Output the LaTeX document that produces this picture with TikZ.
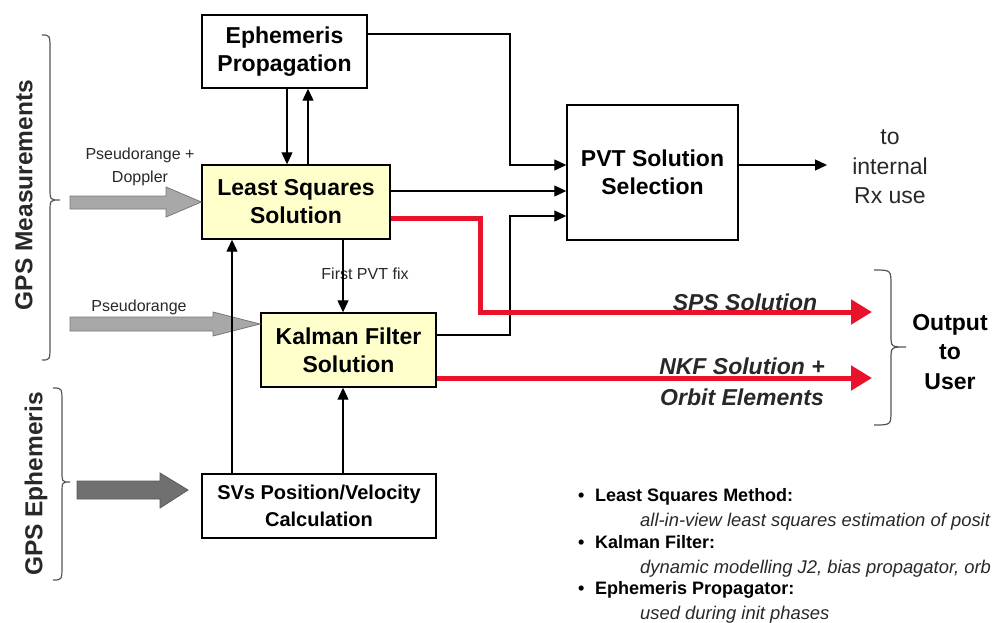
\documentclass[tikz,border=0pt]{standalone}
\usepackage{fontspec}
\setmainfont{Liberation Sans}
\usetikzlibrary{arrows.meta,calc}
\definecolor{boxyellow}{RGB}{255,255,204}
\definecolor{redline}{RGB}{234,18,42}
\definecolor{lightarrow}{RGB}{168,168,168}
\definecolor{lightedge}{RGB}{120,120,120}
\definecolor{darkarrow}{RGB}{112,112,112}
\definecolor{bracegray}{RGB}{85,85,85}
\definecolor{txtgray}{RGB}{40,40,40}
\begin{document}
\begin{tikzpicture}[x=1pt,y=-1pt,
  blk/.style={draw=black, line width=1.4pt, align=center, inner sep=0pt,
    font=\bfseries\fontsize{23}{28}\selectfont},
  conn/.style={draw=black, line width=1.2pt, -{Triangle[length=12pt,width=11pt]}},
  redarrow/.style={draw=redline, line width=5pt, -{Triangle[length=21pt,width=24pt]}},
  lbl/.style={font=\fontsize{16}{23}\selectfont, text=txtgray, align=center, inner sep=0pt},
  brc/.style={draw=bracegray, line width=1.2pt},
  bigtxt/.style={font=\bfseries\fontsize{23}{29.5}\selectfont, align=center, inner sep=0pt},
  redtxt/.style={font=\bfseries\itshape\fontsize{23}{31}\selectfont, align=center, inner sep=0pt, text=txtgray},
  bul/.style={anchor=base west, inner sep=0pt, font=\bfseries\fontsize{18}{22}\selectfont},
  bulit/.style={anchor=base west, inner sep=0pt, font=\itshape\fontsize{18.4}{22}\selectfont, text=txtgray}
]
\useasboundingbox (0,0) rectangle (992,622);

% helper coordinates
\coordinate (xa) at (287,0);
\coordinate (xb) at (308,0);
\coordinate (xc) at (232,0);
\coordinate (xd) at (343,0);
\coordinate (xe) at (510,0);
\coordinate (xr) at (480,0);
\coordinate (ya) at (0,34);
\coordinate (yb) at (0,165);
\coordinate (yc) at (0,191);
\coordinate (yd) at (0,216);
\coordinate (yk) at (0,335);
\coordinate (yr1) at (0,218);
\coordinate (yr2) at (0,378);
\coordinate (ysps) at (0,312);
\coordinate (spsend) at (872,312);
\coordinate (nkfend) at (872,378);
\coordinate (rxend) at (827,165);

% boxes
\node[blk, minimum width=165pt, minimum height=73pt] (eph) at (284.5,51.5) {Ephemeris\\Propagation};
\node[blk, fill=boxyellow, minimum width=188pt, minimum height=74pt] (lsq) at (296,202) {Least Squares\\Solution};
\node[blk, fill=boxyellow, minimum width=175pt, minimum height=74pt] (kal) at (348.5,350) {Kalman Filter\\Solution};
\node[blk, font=\bfseries\fontsize{20}{27}\selectfont, minimum width=234pt, minimum height=64pt] (svs) at (319,506) {SVs Position/Velocity\\Calculation};
\node[blk, minimum width=171pt, minimum height=135pt] (pvt) at (652.5,172.5) {PVT Solution\\Selection};

% block input arrows
\filldraw[fill=lightarrow, draw=lightedge, line width=0.8pt]
  (70,196) -- (166,196) -- (166,187) -- (lsq.west) -- (166,217) -- (166,209) -- (70,209) -- cycle;
\filldraw[fill=lightarrow, draw=lightedge, line width=0.8pt]
  (70,317) -- (213,317) -- (213,312) -- (260,324) -- (213,336) -- (213,331) -- (70,331) -- cycle;
\filldraw[fill=darkarrow, draw=darkarrow!80!black, line width=0.8pt]
  (77,481) -- (160,481) -- (160,473) -- (188,490) -- (160,508) -- (160,499) -- (77,499) -- cycle;

% labels
\node[lbl] (pd) at (140,166.5) {Pseudorange +\\Doppler};
\node[lbl] (pr) at (139,307) {Pseudorange};
\node[lbl] (fix) at (365,274) {First PVT fix};

% connectors
\draw[conn] (eph.south -| xa) -- (lsq.north -| xa);
\draw[conn] (lsq.north -| xb) -- (eph.south -| xb);
\draw[conn] (lsq.south -| xd) -- (kal.north -| xd);
\draw[conn] (svs.north -| xc) -- (lsq.south -| xc);
\draw[conn] (svs.north -| xd) -- (kal.south -| xd);
\draw[conn] (eph.east |- ya) -| (xe |- yb) -- (pvt.west |- yb);
\draw[conn] (lsq.east |- yc) -- (pvt.west |- yc);
\draw[conn] (kal.east |- yk) -| (xe |- yd) -- (pvt.west |- yd);
\draw[conn] (pvt.east |- yb) -- (rxend);

% red outputs
\draw[redarrow] (lsq.east |- yr1) -| (xr |- ysps) -- (spsend);
\draw[redarrow] (kal.east |- yr2) -- (nkfend);

\node[redtxt] (sps) at (745,302) {SPS Solution};
\node[redtxt] (nkf) at (742,381.5) {NKF Solution +\\Orbit Elements};

% right texts
\node[font=\fontsize{23}{29.5}\selectfont, align=center, inner sep=0pt, text=txtgray] (rx) at (890,167) {to\\internal\\Rx use};
\node[bigtxt] (out) at (950,352) {Output\\to\\User};

% braces
\draw[brc] (874,270) .. controls (891,270) .. (891,285) -- (891,335)
  .. controls (891,347) .. (906,347) .. controls (891,347) .. (891,359)
  -- (891,410) .. controls (891,425) .. (874,425);
\draw[brc] (42,35) .. controls (50,35) .. (50,50) -- (50,188)
  .. controls (50,200) .. (60,200) .. controls (50,200) .. (50,212)
  -- (50,345) .. controls (50,360) .. (42,360);
\draw[brc] (53,388) .. controls (62,388) .. (62,403) -- (62,470)
  .. controls (62,482) .. (70,482) .. controls (62,482) .. (62,494)
  -- (62,565) .. controls (62,580) .. (53,580);

\node[rotate=90, font=\bfseries\fontsize{24.5}{29}\selectfont, inner sep=0pt, text=txtgray] (gpsm) at (24,195) {GPS Measurements};
\node[rotate=90, font=\bfseries\fontsize{24.5}{29}\selectfont, inner sep=0pt, text=txtgray] (gpse) at (36,484) {GPS Ephemeris};

% bullet list (texts as printed, cut by the right edge in the reference)
\node[bul] (b1) at (578,501.5) {\makebox[17pt][l]{\textbullet}Least Squares Method:};
\node[bulit] (b2) at (640,526.5) {all-in-view least squares estimation of posit};
\node[bul] (b3) at (578,548.5) {\makebox[17pt][l]{\textbullet}Kalman Filter:};
\node[bulit] (b4) at (640,573.5) {dynamic modelling J2, bias propagator, orb};
\node[bul] (b5) at (578,594.5) {\makebox[17pt][l]{\textbullet}Ephemeris Propagator:};
\node[bulit] (b6) at (640,619.5) {used during init phases};
\end{tikzpicture}
\end{document}
